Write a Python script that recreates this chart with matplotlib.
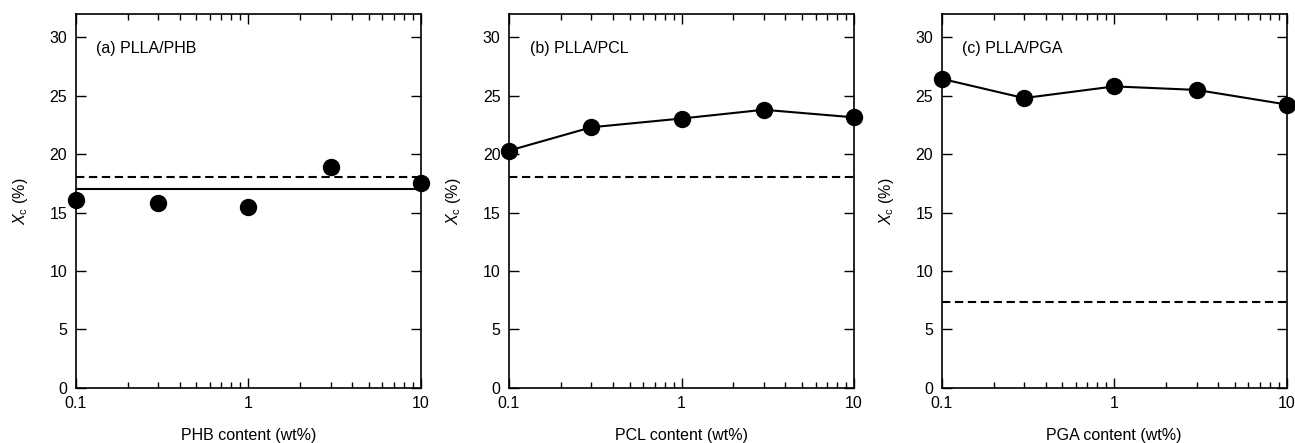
import matplotlib
matplotlib.use("Agg")
import matplotlib.pyplot as plt
from matplotlib.ticker import FixedLocator, FixedFormatter, LogLocator, NullFormatter

plt.rcParams['font.family'] = ['Liberation Sans', 'DejaVu Sans']
plt.rcParams['mathtext.fontset'] = 'custom'
plt.rcParams['mathtext.it'] = 'Liberation Sans:italic'
plt.rcParams['mathtext.rm'] = 'Liberation Sans'

content = [0.1, 0.3, 1, 3, 10]
phb_xc = [16.1, 15.8, 15.5, 18.9, 17.55]
pcl_xc = [20.3, 22.3, 23.05, 23.8, 23.15]
pga_xc = [26.45, 24.8, 25.8, 25.5, 24.25]
phb_mean = 17.0
neat_ref = [18.0, 18.0, 7.38]
panel_titles = ["(a) PLLA/PHB", "(b) PLLA/PCL", "(c) PLLA/PGA"]
xlabels = ["PHB content (wt%)", "PCL content (wt%)", "PGA content (wt%)"]
xticks = [0.1, 1, 10]
xticklabels = ["0.1", "1", "10"]
yticks = [0, 5, 10, 15, 20, 25, 30]

W, H = 1295, 443
fig = plt.figure(figsize=(W/100, H/100), dpi=100)
lefts = [75.7, 509, 941.7]
width = 345
top, bottom = 14, 387.7
fs = 11.5
ms = 11.5

series = [phb_xc, pcl_xc, pga_xc]
for i in range(3):
    ax = fig.add_axes([lefts[i]/W, 1-bottom/H, width/W, (bottom-top)/H])
    ax.set_xscale('log')
    ax.set_xlim(0.1, 10)
    ax.set_ylim(0, 32)
    if i == 0:
        ax.plot(content, series[i], 'o', color='black', ms=ms, clip_on=False, zorder=5)
        ax.axhline(phb_mean, color='black', lw=1.5)
    else:
        ax.plot(content, series[i], '-o', color='black', ms=ms, lw=1.5, clip_on=False, zorder=5)
    ax.axhline(neat_ref[i], color='black', lw=1.5, ls=(0, (4, 2.2)))
    ax.xaxis.set_major_locator(FixedLocator(xticks))
    ax.xaxis.set_major_formatter(FixedFormatter(xticklabels))
    ax.xaxis.set_minor_locator(LogLocator(base=10, subs=range(2, 10)))
    ax.xaxis.set_minor_formatter(NullFormatter())
    ax.set_yticks(yticks)
    ax.tick_params(which='both', direction='in', top=True, right=True, labelsize=fs)
    ax.tick_params(axis='y', pad=6)
    ax.tick_params(axis='x', pad=6)
    ax.tick_params(which='major', length=7, width=1)
    ax.tick_params(which='minor', length=4, width=1)
    for s in ax.spines.values():
        s.set_linewidth(1.2)
    ax.set_xlabel(xlabels[i], fontsize=fs, labelpad=12)
    ax.set_ylabel(r'$\mathit{X}_{\mathrm{c}}$ (%)', fontsize=fs, labelpad=14)
    ax.text(0.06, 0.895, panel_titles[i], transform=ax.transAxes, fontsize=fs)

fig.savefig('out.png', dpi=100)
